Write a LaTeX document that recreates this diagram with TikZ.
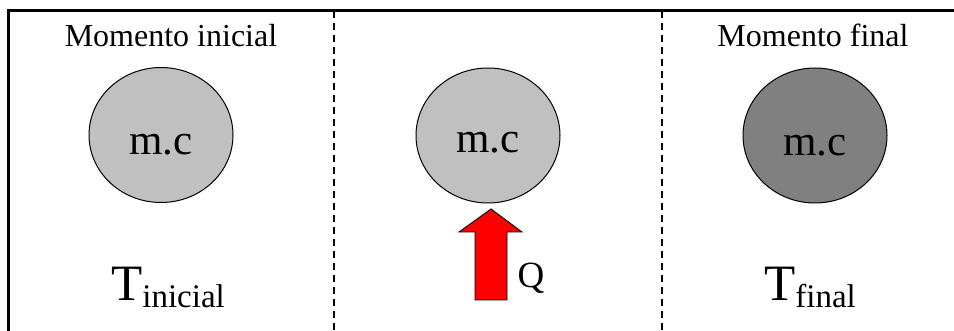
\documentclass[tikz,border=0pt]{standalone}
\usepackage{fontspec}
\setmainfont{Liberation Serif}
\usepackage{tikz}
\usepackage{xcolor}
\usetikzlibrary{shapes.geometric}

\definecolor{masslight}{HTML}{C0C0C0}
\definecolor{massdark}{HTML}{808080}

\begin{document}
\begin{tikzpicture}[x=1pt, y=-1pt,
    mass/.style={ellipse, draw=black, line width=1pt, inner sep=0pt,
                 minimum width=144pt, minimum height=135pt},
    masstext/.style={anchor=base, inner sep=0pt, font=\fontsize{43}{50}\selectfont},
    moment/.style={anchor=base, inner sep=0pt, font=\fontsize{32}{38}\selectfont},
    temp/.style={anchor=base, inner sep=0pt, font=\fontsize{51}{60}\selectfont}
]
    \useasboundingbox (0,0) rectangle (954,331);

    % Frame and separators
    \draw[line width=3pt] (8,331) -- (8,11) -- (954,11);
    \draw[line width=1.1pt, dash pattern=on 7pt off 5pt] (334,11) -- (334,331);
    \draw[line width=1.1pt, dash pattern=on 7pt off 5pt] (662,11) -- (662,331);

    % Initial state
    \node[moment] (startlabel) at (171,47) {Momento inicial};
    \node[mass, fill=masslight] (massA) at (161,135) {};
    \node[masstext] (mcA) at ([yshift=-20pt]massA.center) {m.c};
    \node[temp] (tA) at (168,301) {T\raisebox{-7pt}{\fontsize{33}{40}\selectfont inicial}};

    % Heating
    \node[mass, fill=masslight] (massB) at (488,135.5) {};
    \node[masstext] (mcB) at ([yshift=-17pt]massB.center) {m.c};
    \filldraw[fill=red, draw=black, line width=0.9pt]
        (475,300) -- (475,232) -- (459,232) -- (491,209) -- (522,232)
        -- (507,232) -- (507,300) -- cycle;
    \node[anchor=base, inner sep=0pt, font=\fontsize{37}{42}\selectfont] (heat) at (531,288) {Q};

    % Final state
    \node[moment] (endlabel) at (813,47) {Momento final};
    \node[mass, fill=massdark] (massC) at (815,135.5) {};
    \node[masstext] (mcC) at ([yshift=-20pt]massC.center) {m.c};
    \node[temp] (tC) at (810,301) {T\raisebox{-7pt}{\fontsize{33}{40}\selectfont final}};
\end{tikzpicture}
\end{document}
